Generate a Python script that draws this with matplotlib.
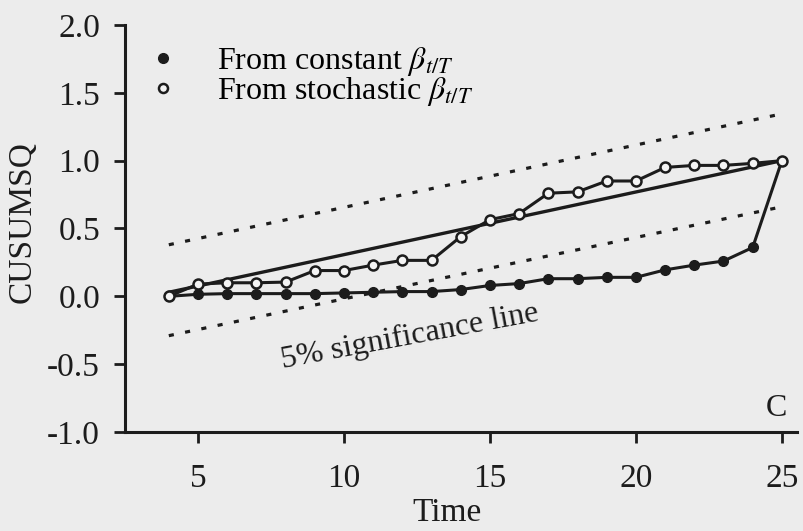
import matplotlib
matplotlib.use('Agg')
import matplotlib.pyplot as plt
from matplotlib.lines import Line2D

plt.rcParams['font.family'] = ['Liberation Serif', 'DejaVu Serif']
plt.rcParams['mathtext.fontset'] = 'stix'
plt.rcParams['axes.unicode_minus'] = False

# thoi gian t = 4..25
time = list(range(4, 26))
# CUSUMSQ tu beta khong doi
cusumsq_const = [0.0, 0.015, 0.02, 0.02, 0.02, 0.02, 0.025, 0.03, 0.035, 0.035, 0.05,
                 0.08, 0.094, 0.13, 0.13, 0.14, 0.14, 0.195, 0.23, 0.26, 0.36, 1.0]
# CUSUMSQ tu beta ngau nhien
cusumsq_stoch = [0.0, 0.09, 0.10, 0.10, 0.105, 0.19, 0.19, 0.23, 0.265, 0.265, 0.44,
                 0.565, 0.61, 0.76, 0.77, 0.85, 0.85, 0.95, 0.965, 0.965, 0.98, 1.0]
# duong ky vong va hai duong gioi han 5%
line_x = [4, 25]
expected_y = [0.03, 1.0]
upper_y = [0.38, 1.345]
lower_y = [-0.29, 0.66]

ink = '#1c1c1c'
bg = '#ececec'
fs = 23
fs_tick = 24

fig = plt.figure(figsize=(8.04, 5.31), dpi=100, facecolor=bg)
ax = fig.add_axes([0.1555, 0.1864, 0.8355, 0.7666])
ax.set_facecolor('none')

# hai duong gioi han (cham)
for yy in (upper_y, lower_y):
    ax.plot(line_x, yy, color=ink, lw=2.3, linestyle=(0, (1.6, 3.6)), solid_capstyle='butt')
ax.plot(line_x, expected_y, color=ink, lw=2.4)

ax.plot(time, cusumsq_const, color=ink, lw=2.2, marker='o', markersize=7,
        markerfacecolor=ink, markeredgecolor=ink)
ax.plot(time, cusumsq_stoch, color=ink, lw=2.2, marker='o', markersize=7.2,
        markerfacecolor='#f4f4f4', markeredgecolor=ink, markeredgewidth=1.8)

ax.text(12.3, -0.355, '5% significance line', fontsize=fs, rotation=10.5,
        rotation_mode='anchor', ha='center', va='baseline', color=ink)
ax.text(24.8, -0.83, 'C', fontsize=fs, ha='center', va='center', color=ink)

ax.set_xlim(2.5, 25.51)
ax.set_ylim(-1.0, 2.0)
ax.set_xticks([5, 10, 15, 20, 25])
ax.set_yticks([-1.0, -0.5, 0.0, 0.5, 1.0, 1.5, 2.0])
ax.set_yticklabels(['%.1f' % v for v in ax.get_yticks()])
for s in ('top', 'right'):
    ax.spines[s].set_visible(False)
for s in ('left', 'bottom'):
    ax.spines[s].set_linewidth(2.2)
    ax.spines[s].set_color(ink)
ax.tick_params(axis='both', direction='out', length=8, width=2.0, color=ink,
               labelsize=fs_tick, labelcolor=ink)
ax.tick_params(axis='x', pad=15)
ax.tick_params(axis='y', pad=10)

ax.set_xlabel('Time', fontsize=fs_tick, color=ink)
ax.xaxis.set_label_coords(0.479, -0.16)
ax.set_ylabel('CUSUMSQ', fontsize=fs_tick, color=ink)
ax.yaxis.set_label_coords(-0.13, 0.516)

handles = [Line2D([], [], ls='none', marker='o', markersize=7, color=ink),
           Line2D([], [], ls='none', marker='o', markersize=6.5, markerfacecolor='#f4f4f4',
                  markeredgecolor=ink, markeredgewidth=1.8)]
labels = [r'From constant $\beta_{t/T}$', r'From stochastic $\beta_{t/T}$']
ax.legend(handles, labels, loc='upper left', bbox_to_anchor=(0.173, 0.945),
          bbox_transform=fig.transFigure, frameon=False, fontsize=fs,
          handlelength=0.5, handletextpad=1.45, labelspacing=-0.1, borderpad=0)

fig.savefig('out.png', dpi=100, facecolor=bg)
